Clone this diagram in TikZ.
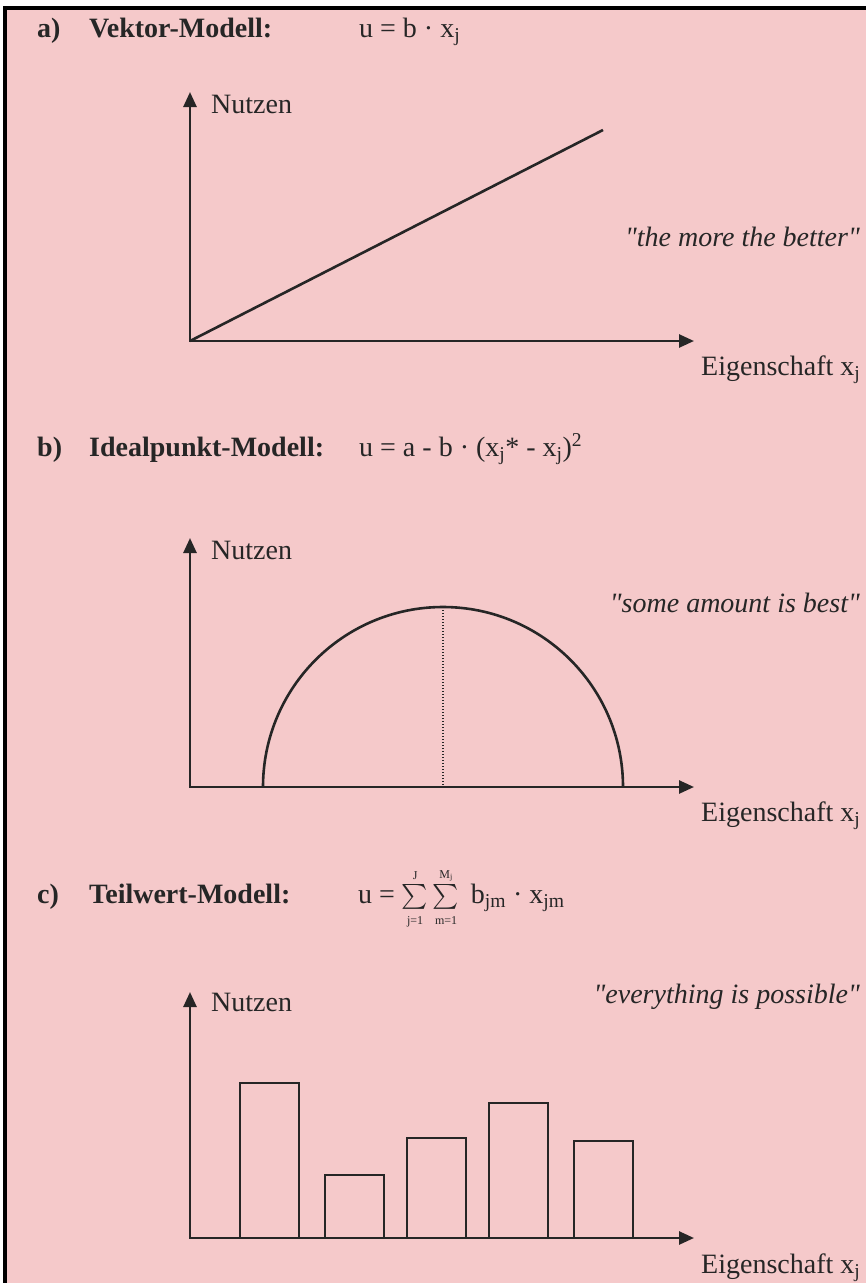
\documentclass[tikz,border=0pt]{standalone}
\usepackage{amsmath}
\usepackage{fontspec}
\setmainfont{Liberation Serif}[Ligatures=TeXOff]
\usetikzlibrary{arrows.meta}
\definecolor{panelpink}{HTML}{F5C9CA}
\definecolor{ink}{HTML}{262626}
\newcommand{\bigtext}{\fontsize{28}{33}\selectfont}
\newcommand{\limtext}[1]{\text{\fontsize{12}{12}\selectfont #1}}
\newcommand{\sumop}[2]{$\mathop{\textstyle\sum}\limits^{\limtext{#1}}_{\limtext{#2}}$}

\begin{document}
\begin{tikzpicture}[x=1pt, y=-1pt,
    lbl/.style={anchor=base west, inner sep=0pt, text=ink, font=\bigtext},
    ttl/.style={lbl, font=\bigtext\bfseries},
    motto/.style={anchor=base east, inner sep=0pt, text=ink, font=\bigtext\itshape},
    axes/.style={{Triangle[length=15pt, width=13pt]}-{Triangle[length=15pt, width=13pt]}, line width=2.6pt, draw=ink, line join=miter},
    graph/.style={line width=2.6pt, draw=ink},
    bar/.style={line width=2.6pt, draw=ink},
    peak/.style={line width=1.3pt, draw=ink, dash pattern=on 1.3pt off 1.7pt}
]
\useasboundingbox (0,0) rectangle (866,1283);
\fill[panelpink] (5,8) rectangle (866,1283);
\draw[line width=3.5pt, black] (5,1283) -- (5,8) -- (866,8);

% a) vector model
\node[ttl] (la) at (37,37) {a)};
\node[ttl] (ta) at (89,37) {Vektor-Modell:};
\node[lbl] (fa) at (359,37) {u = b · x\textsubscript{j}};
\coordinate (oa) at (190,341);
\coordinate (ya) at (190,92);
\coordinate (xa) at (694,341);
\coordinate (ea) at (603,130);
\draw[axes] (ya) -- (oa) -- (xa);
\draw[graph] (oa) -- (ea);
\node[lbl] (na) at (211,113) {Nutzen};
\node[motto] (ma) at (860,246) {"the more the better"};
\node[lbl] (pa) at (701,375) {Eigenschaft x\textsubscript{j}};

% b) ideal point model
\node[ttl] (lb) at (37,456) {b)};
\node[ttl] (tb) at (89,456) {Idealpunkt-Modell:};
\node[lbl] (fb) at (359,456) {u = a - b · (x\textsubscript{j}* - x\textsubscript{j})\textsuperscript{2}};
\coordinate (ob) at (190,787);
\coordinate (yb) at (190,538);
\coordinate (xb) at (694,787);
\coordinate (sb) at (263,787);
\coordinate (kb) at (443,607);
\coordinate (hb) at (443,787);
\draw[graph] (sb) arc[start angle=180, end angle=0, radius=180pt];
\draw[peak] (kb) -- (hb);
\draw[axes] (yb) -- (ob) -- (xb);
\node[lbl] (nb) at (211,559) {Nutzen};
\node[motto] (mb) at (860,612) {"some amount is best"};
\node[lbl] (pb) at (701,821) {Eigenschaft x\textsubscript{j}};

% c) part-worth model
\node[ttl] (lc) at (37,903) {c)};
\node[ttl] (tc) at (89,903) {Teilwert-Modell:};
\node[lbl] (fc) at (358,903) {u = \sumop{J}{j=1}\,\sumop{M\textsubscript{j}}{m=1}\, b\textsubscript{jm} · x\textsubscript{jm}};
\coordinate (oc) at (190,1238);
\coordinate (yc) at (190,992);
\coordinate (xc) at (694,1238);
\foreach \i/\xl/\top in {1/240/1083, 2/325/1175, 3/407/1138, 4/489/1103, 5/574/1141}{
  \coordinate (c\i) at (\xl,1238);
  \coordinate (d\i) at (\xl+59,\top);
  \draw[bar] (c\i) rectangle (d\i);
}
\draw[axes] (yc) -- (oc) -- (xc);
\node[lbl] (nc) at (211,1011) {Nutzen};
\node[motto] (mc) at (860,1003) {"everything is possible"};
\node[lbl] (pc) at (701,1273) {Eigenschaft x\textsubscript{j}};
\end{tikzpicture}
\end{document}
